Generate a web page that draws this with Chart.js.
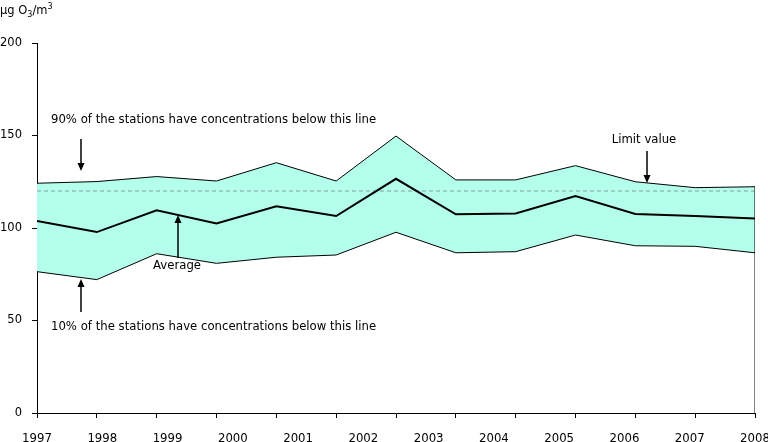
<!DOCTYPE html>
<html>
<head>
<meta charset="utf-8">
<script src="https://cdn.jsdelivr.net/npm/chart.js@4.4.1/dist/chart.umd.min.js"></script>
<style>
html,body{margin:0;padding:0;background:#fff;}
#wrap{width:768px;height:442px;position:relative;}
</style>
</head>
<body>
<div id="wrap"><canvas id="c" width="768" height="442"></canvas></div>
<script>
// Data
const YEARS = ['1997','1998','1999','2000','2001','2002','2003','2004','2005','2006','2007','2008'];
const P90 = [124.2, 125.1, 127.8, 125.4, 135.3, 125.4, 149.7, 126.0, 126.0, 133.7, 125.0, 121.8, 122.3];
const AVERAGE = [103.8, 97.8, 109.6, 102.5, 111.7, 106.5, 126.6, 107.4, 107.9, 117.3, 107.6, 106.5, 105.2];
const P10 = [76.4, 72.1, 86.1, 80.9, 84.2, 85.4, 97.7, 86.6, 87.2, 96.2, 90.4, 90.1, 86.6];
const LIMIT = 120;
const Y_TICKS = [0, 50, 100, 150, 200];

const FONT = 'DejaVu Sans';
const toXY = arr => arr.map((v, i) => ({x: i, y: v}));
const LAST = P90.length - 1;

const annot = {
  id: 'annot',
  afterDraw(chart) {
    const ctx = chart.ctx;
    ctx.save();
    ctx.fillStyle = '#000';
    ctx.strokeStyle = '#000';
    ctx.textBaseline = 'middle';
    // axis title with sub/superscript
    ctx.textAlign = 'left';
    ctx.font = '11.5px "' + FONT + '"';
    let x = 0;
    ctx.fillText('µg O', x, 11); x += ctx.measureText('µg O').width;
    ctx.font = '8px "' + FONT + '"';
    ctx.fillText('3', x, 15); x += ctx.measureText('3').width;
    ctx.font = '11.5px "' + FONT + '"';
    ctx.fillText('/m', x, 11); x += ctx.measureText('/m').width;
    ctx.font = '8px "' + FONT + '"';
    ctx.fillText('3', x, 7);
    // texts
    ctx.font = '11.7px "' + FONT + '"';
    ctx.fillText('90% of the stations have concentrations below this line', 51, 120);
    ctx.fillText('10% of the stations have concentrations below this line', 51, 327);
    ctx.textAlign = 'center';
    ctx.fillText('Average', 177, 266);
    ctx.fillText('Limit value', 644, 140);
    // arrows
    function arrow(x, y1, y2) {
      ctx.lineWidth = 1.5;
      ctx.beginPath();
      const dir = y2 > y1 ? 1 : -1;
      ctx.moveTo(x, y1);
      ctx.lineTo(x, y2 - dir * 6);
      ctx.stroke();
      ctx.beginPath();
      ctx.moveTo(x, y2);
      ctx.lineTo(x - 3.5, y2 - dir * 8);
      ctx.lineTo(x + 3.5, y2 - dir * 8);
      ctx.closePath();
      ctx.fill();
    }
    arrow(81, 139, 171);
    arrow(81, 312, 279);
    arrow(178, 258, 215);
    arrow(647, 151, 183);
    ctx.restore();
  }
};

new Chart(document.getElementById('c'), {
  type: 'line',
  data: {
    datasets: [
      { label: '10%', data: toXY(P10), borderColor: '#000', borderWidth: 1, pointRadius: 0, fill: false, tension: 0, order: 0 },
      { label: 'Average', data: toXY(AVERAGE), borderColor: '#000', borderWidth: 2, pointRadius: 0, fill: false, tension: 0, order: 0 },
      { label: '90%', data: toXY(P90), borderColor: '#000', borderWidth: 1, pointRadius: 0, fill: 0, backgroundColor: '#b3ffeb', tension: 0, order: 2 },
      { label: 'Limit', data: [{x: 0, y: LIMIT}, {x: LAST, y: LIMIT}], borderColor: '#7fa39c', borderWidth: 1, borderDash: [4, 3], pointRadius: 0, fill: false, order: 1 },
      { label: 'Edge', data: [{x: LAST, y: 0}, {x: LAST, y: P90[LAST]}], borderColor: '#000', borderWidth: 1, pointRadius: 0, fill: false, order: 0 }
    ]
  },
  options: {
    responsive: false,
    animation: false,
    events: [],
    layout: { padding: { left: 0, top: 43, right: 13, bottom: 0 } },
    plugins: { legend: { display: false }, tooltip: { enabled: false } },
    scales: {
      x: {
        type: 'linear', position: 'bottom', min: 0, max: LAST,
        afterBuildTicks: s => { s.ticks = P90.map((v, i) => ({value: i})); },
        ticks: { display: false },
        grid: { drawOnChartArea: false, drawTicks: true, tickLength: 5, color: '#000', lineWidth: 1 },
        border: { display: true, color: '#000', width: 1 },
        afterFit: s => { s.height = 5; s.paddingLeft = 0; s.paddingRight = 0; }
      },
      x2: {
        type: 'linear', position: 'bottom', min: 0, max: YEARS.length - 1,
        afterBuildTicks: s => { s.ticks = YEARS.map((v, i) => ({value: i})); },
        ticks: { color: '#000', font: { family: '"DejaVu Sans Condensed", "Liberation Sans Narrow", "DejaVu Sans"', size: 13 }, maxRotation: 0, autoSkip: false, padding: 13, callback: v => YEARS[v] },
        grid: { display: false, drawTicks: false },
        border: { display: false },
        afterFit: s => { s.height = 24; s.paddingLeft = 0; s.paddingRight = 0; }
      },
      y: {
        type: 'linear', min: 0, max: 200,
        afterBuildTicks: s => { s.ticks = Y_TICKS.map(v => ({value: v})); },
        ticks: { color: '#000', font: { family: FONT, size: 11.5 }, padding: 10 },
        grid: { drawOnChartArea: false, drawTicks: true, tickLength: 5, color: '#000', lineWidth: 1 },
        border: { display: true, color: '#000', width: 1 },
        afterFit: s => { s.width = 37; s.paddingTop = 0; s.paddingBottom = 0; }
      }
    }
  },
  plugins: [annot]
});
</script>
</body>
</html>
